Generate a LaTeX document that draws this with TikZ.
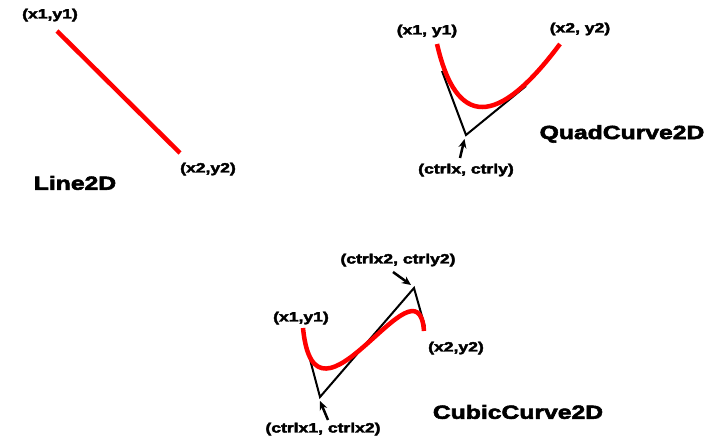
\documentclass[tikz,border=0pt]{standalone}
\usepackage{fontspec}
\setmainfont{Liberation Sans}
\newfontfamily\labfont[FakeStretch=1.3,FakeBold=3]{Liberation Sans Bold}
\usetikzlibrary{arrows.meta}
\tikzset{
  small/.style={font=\labfont\fontsize{13.5}{15}\selectfont, inner sep=0pt},
  big/.style={font=\labfont\fontsize{19}{21}\selectfont, inner sep=0pt},
  redcurve/.style={draw=red, line width=4.5pt, line cap=butt},
  ctrlline/.style={draw=black, line width=2pt},
  pointer/.style={draw=black, line width=2.5pt, -{Stealth[length=9pt,width=8pt]}}
}
\begin{document}
\begin{tikzpicture}[x=1pt,y=-1pt]
\useasboundingbox (0,0) rectangle (713,436);
\fill[white] (0,0) rectangle (713,436);
% Line2D
\coordinate (la) at (57,31);
\coordinate (lb) at (180,153);
\draw[redcurve] (la) -- (lb);
\node[small] (lt1) at (50,15) {(x1,y1)};
\node[small] (lt2) at (208,169) {(x2,y2)};
\node[big] (lname) at (75,183) {Line2D};
% QuadCurve2D
\coordinate (qa) at (437,44);
\coordinate (qb) at (560,44);
\coordinate (qc1) at (456.3,128);
\coordinate (qc2) at (497.3,128);
\coordinate (qk) at (466,135);
\coordinate (qs1) at (442,71);
\coordinate (qs2) at (526,86);
\draw[ctrlline] (qs1) -- (qk) -- (qs2);
\draw[redcurve] (qa) .. controls (qc1) and (qc2) .. (qb);
\node[small] (qt1) at (427,31) {(x1, y1)};
\node[small] (qt2) at (580,29) {(x2, y2)};
\node[big] (qname) at (622,134) {QuadCurve2D};
\node[small] (qtc) at (466,170) {(ctrlx, ctrly)};
\coordinate (qarrt) at (460,158);
\coordinate (qarrh) at (464.5,139);
\draw[pointer] (qarrt) -- (qarrh);
% CubicCurve2D
\coordinate (ca) at (303,328);
\coordinate (cb) at (424,331);
\coordinate (cc1) at (315,450);
\coordinate (cc2) at (418,250);
\coordinate (ck1) at (320,397);
\coordinate (ck2) at (414,288);
\coordinate (cs1) at (308,352);
\coordinate (cs2) at (425,327);
\draw[ctrlline] (cs1) -- (ck1) -- (ck2) -- (cs2);
\draw[redcurve] (ca) .. controls (cc1) and (cc2) .. (cb);
\node[small] (ct1) at (301,318) {(x1,y1)};
\node[small] (ct2) at (456,348) {(x2,y2)};
\node[small] (ctc2) at (398,260) {(ctrlx2, ctrly2)};
\node[small] (ctc1) at (323,429) {(ctrlx1, ctrlx2)};
\node[big] (cname) at (518,412) {CubicCurve2D};
\coordinate (c2arrt) at (393,272);
\coordinate (c2arrh) at (411,285);
\draw[pointer] (c2arrt) -- (c2arrh);
\coordinate (c1arrt) at (328,420);
\coordinate (c1arrh) at (320,401);
\draw[pointer] (c1arrt) -- (c1arrh);
\end{tikzpicture}
\end{document}
